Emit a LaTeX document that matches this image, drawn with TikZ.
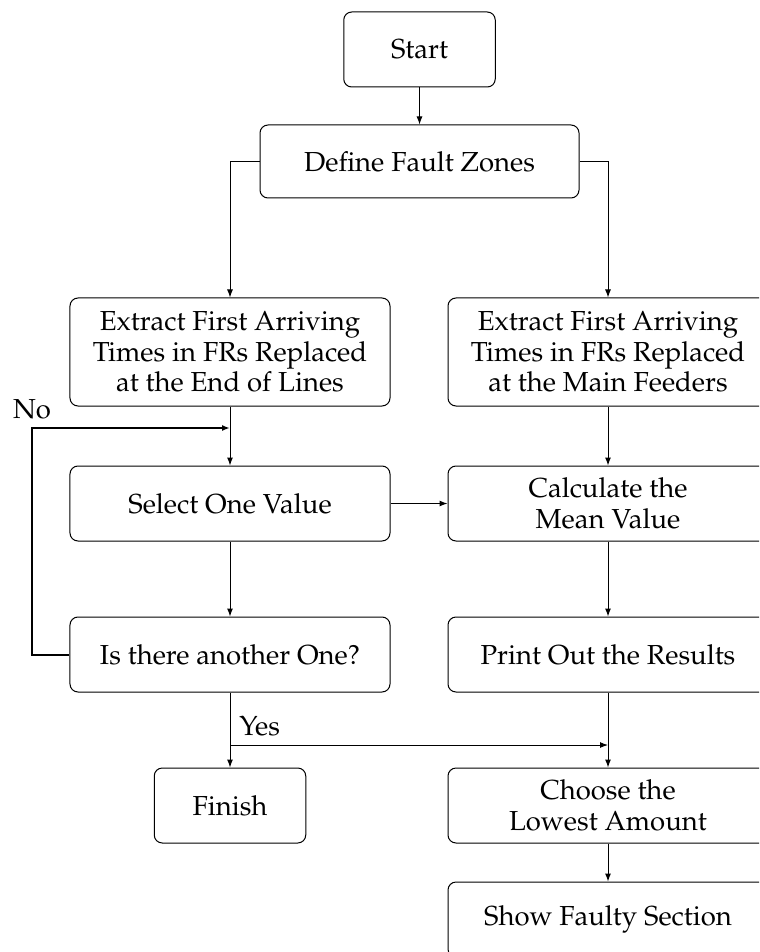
\documentclass[tikz,border=0pt]{standalone}
\usepackage[T1]{fontenc}
\usepackage{mathpazo}
\usetikzlibrary{arrows.meta}
\tikzset{
  box/.style={draw, rounded corners=3.2pt, inner sep=0pt, align=center,
    font=\fontsize{11pt}{12.3pt}\selectfont},
  wide/.style={box, minimum width=128pt, minimum height=30pt},
  tall/.style={box, minimum width=128pt, minimum height=43.2pt},
  small/.style={box, minimum width=60.6pt, minimum height=30pt},
  flow/.style={-{Latex[length=3.2pt,width=2.4pt]}},
  lbl/.style={font=\fontsize{11pt}{12.3pt}\selectfont, inner sep=3.5pt}
}
\begin{document}
\begin{tikzpicture}[x=0.4pt,y=-0.4pt]
\clip (0,0) rectangle (759,952);

% boxes
\node[small] (start) at (419.5,49.5) {Start};
\node[box, minimum width=127.6pt, minimum height=29.2pt] (zones) at (419.5,161.5) {Define Fault Zones};
\node[tall] (endl) at (230,352) {Extract First Arriving\\Times in FRs Replaced\\at the End of Lines};
\node[tall] (mainf) at (608,352) {Extract First Arriving\\Times in FRs Replaced\\at the Main Feeders};
\node[wide] (select) at (230,503.5) {Select One Value};
\node[wide] (mean) at (608,503.5) {Calculate the\\Mean Value};
\node[wide] (another) at (230,654.5) {Is there another One?};
\node[wide] (print) at (608,654.5) {Print Out the Results};
\node[small] (finish) at (230,805.5) {Finish};
\node[wide] (lowest) at (608,805.5) {Choose the\\Lowest Amount};
\node[wide] (faulty) at (608,919.5) {Show Faulty Section};

% junctions
\coordinate (nojoin) at (230,428);
\coordinate (noturn) at (32,428);
\coordinate (yesjoin) at (230,745);
\coordinate (yesend) at (608,745);

% connectors
\draw[flow] (start) -- (zones);
\draw[flow] (zones.west) -| (endl.north);
\draw[flow] (zones.east) -| (mainf.north);
\draw[flow] (endl) -- (select);
\draw[flow] (mainf) -- (mean);
\draw[flow] (select) -- (mean);
\draw[flow] (select) -- (another);
\draw[flow] (mean) -- (print);
\draw[flow] (another) -- (finish);
\draw[flow] (print) -- (lowest);
\draw[flow] (lowest) -- (faulty);
\draw[flow] (yesjoin) -- (yesend);
\draw[thick, -{Latex[length=3.2pt,width=2.4pt]}] (another.west) -| (noturn) -- (nojoin);

% labels
\node[lbl, anchor=south] (no) at (noturn) {No};
\node[lbl, anchor=south west] (yes) at (yesjoin) {Yes};
\end{tikzpicture}
\end{document}
